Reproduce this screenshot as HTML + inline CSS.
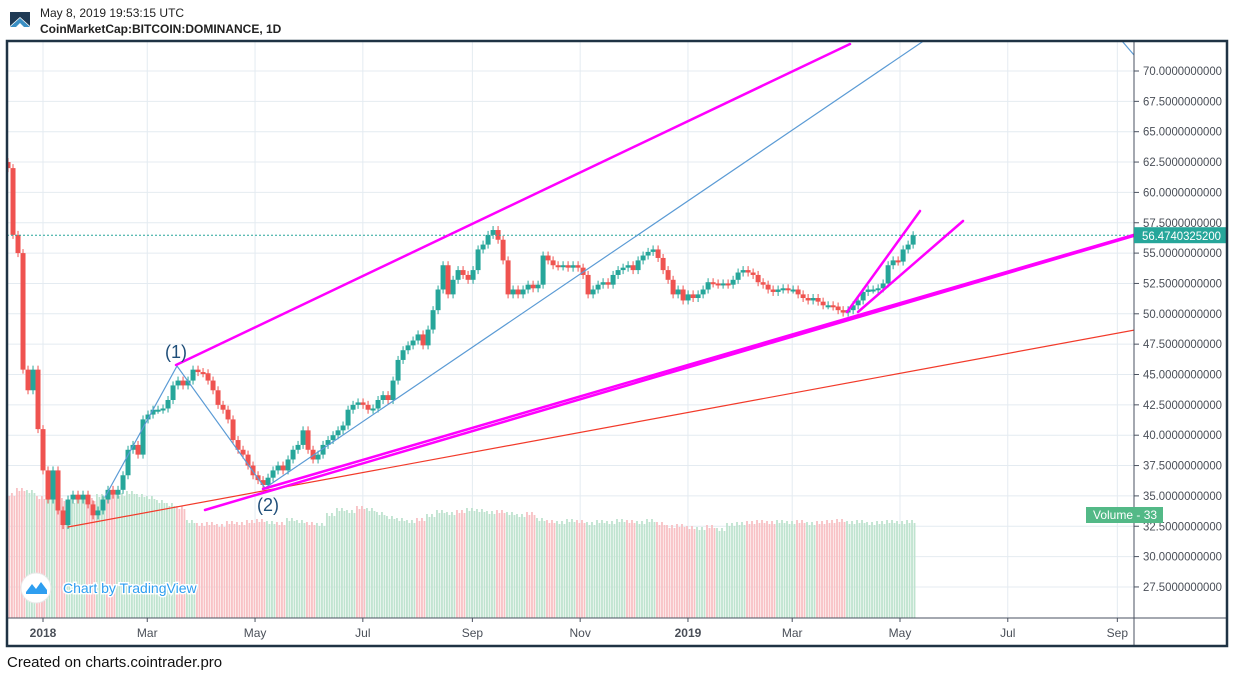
<!DOCTYPE html>
<html><head><meta charset="utf-8">
<style>
html,body{margin:0;padding:0;background:#fff;width:1234px;height:677px;overflow:hidden;font-family:"Liberation Sans",sans-serif}
#hdr1{position:absolute;left:40px;top:6px;font-size:12px;color:#222}
#hdr2{position:absolute;left:40px;top:22px;font-size:12px;font-weight:bold;color:#222}
#foot{position:absolute;left:7px;top:654px;font-size:15px;color:#111}
svg{position:absolute;left:0;top:0}
</style></head><body>
<div id="hdr1">May 8, 2019 19:53:15 UTC</div>
<div id="hdr2">CoinMarketCap:BITCOIN:DOMINANCE, 1D</div>
<div id="foot">Created on charts.cointrader.pro</div>
<svg id="chart" width="1234" height="677"></svg>
<script>
// ---- data ----
const closes=[62.0,56.5,55.0,45.4,43.7,45.4,40.5,37.1,34.7,37.1,33.8,32.6,34.7,35.1,34.7,35.1,34.3,33.4,33.8,34.7,35.5,35.1,35.5,36.7,38.8,39.2,38.4,41.3,41.7,42.1,42.1,42.2,42.9,44.1,44.5,44.1,44.5,45.4,45.2,45.1,44.5,43.7,42.5,42.1,41.3,39.6,38.8,38.4,37.5,36.7,36.3,35.9,36.5,37.1,37.5,37.1,38.0,38.8,39.2,40.4,38.8,38.0,38.4,39.2,39.6,40.0,40.4,40.8,42.1,42.5,42.7,42.5,42.1,42.2,42.9,43.3,42.9,44.5,46.2,47.0,47.4,47.8,48.3,47.4,48.7,50.3,52.0,54.0,51.6,52.8,53.6,53.2,52.8,53.6,55.3,55.7,56.5,56.9,56.1,54.4,51.6,52.0,51.6,52.0,52.4,52.1,52.4,54.8,54.4,54.0,53.9,54.0,53.8,54.0,53.8,53.2,51.6,52.0,52.4,52.6,52.4,53.2,53.6,53.8,54.0,53.6,54.4,54.8,55.1,55.3,54.6,53.6,52.8,51.6,52.0,51.1,51.6,51.3,51.6,52.0,52.6,52.5,52.4,52.5,52.4,52.8,53.4,53.6,53.4,53.2,52.6,52.4,52.0,51.8,52.0,52.1,52.0,52.0,51.6,51.3,51.1,51.3,51.0,50.7,50.7,50.6,50.3,50.1,50.3,50.7,51.1,51.8,52.0,52.0,52.1,52.5,54.0,54.4,54.3,55.3,55.7,56.47];
const volumes=[125,130,128,122,126,120,118,122,120,124,126,125,127,124,122,118,115,112,98,95,96,94,97,96,98,99,97,96,100,98,96,95,105,110,108,112,110,106,102,100,98,100,104,108,106,108,110,109,107,108,106,104,106,100,98,97,99,98,96,98,97,99,98,97,99,96,93,94,92,91,93,90,95,96,97,98,97,98,97,98,96,97,98,99,97,98,96,97,98,97,98];
const priceTicks=[70,67.5,65,62.5,60,57.5,55,52.5,50,47.5,45,42.5,40,37.5,35,32.5,30,27.5];
const monthLabels=["2018","Mar","May","Jul","Sep","Nov","2019","Mar","May","Jul","Sep"];
const monthDays=[0,59,120,181,243,304,365,424,485,546,608];
const lastPrice=56.4740325200;
// ---- scales ----
const X0=43,PPD=1.767,Y70=71,PPU=12.14;
const CANDLE_START=-19.8,CANDLE_STEP=2.83;
const xs=d=>X0+d*PPD;
const ys=v=>Y70+(70-v)*PPU;
const PL=7,PR=1134,PT=41,PB=618;
const NS="http://www.w3.org/2000/svg";
const svg=document.getElementById('chart');
function mk(tag,attrs,parent){const e=document.createElementNS(NS,tag);for(const k in attrs)e.setAttribute(k,attrs[k]);(parent||svg).appendChild(e);return e;}
const defs=mk('defs',{});const cp=mk('clipPath',{id:'pc'},defs);mk('rect',{x:PL,y:PT,width:PR-PL,height:PB-PT},cp);
// grid
const grid=mk('g',{});


priceTicks.forEach(v=>{mk('line',{x1:PL,x2:PR,y1:ys(v),y2:ys(v),stroke:'#e4ebf1','stroke-width':1},grid);});
monthDays.forEach(d=>{mk('line',{x1:xs(d),x2:xs(d),y1:PT,y2:PB,stroke:'#e4ebf1','stroke-width':1},grid);});
const plot=mk('g',{'clip-path':'url(#pc)'});
// volume (striped bars to mimic daily bars)
const vg=mk('g',{},plot);


const VSTEP=CANDLE_STEP*2;
volumes.forEach((v,i)=>{
  const d=CANDLE_START+i*VSTEP;const ci=Math.min(closes.length-1,i*2+1);
  const up=ci>0&&closes[ci]>=closes[ci-1];
  const x=xs(d)-2;const w=VSTEP*PPD;
  for(let k=0;k<w-0.5;k+=2.5){
    const r=mk('rect',{x:x+k,y:PB-v+(k%5?3:0),width:1.8,height:v,fill:up?'#bfe3cf':'#f8c1c4'},vg);
    
    
  }
});
// watermark
const wm=mk('g',{},plot);


mk('circle',{cx:36,cy:588,r:15,fill:'#fff',stroke:'#e8e8e8'},wm);
mk('path',{d:'M26 592 L32 584 L36 589 L41 582 L47 590 L47 594 L26 594Z',fill:'#2e9ef0'},wm);
const wt=mk('text',{x:63,y:593,'font-size':14,fill:'#2e9ef0',stroke:'#fff','stroke-width':3,'paint-order':'stroke','font-family':'Liberation Sans'},wm);wt.textContent='Chart by TradingView';
// candles
const cg=mk('g',{},plot);


closes.forEach((c,i)=>{
  const o=i>0?closes[i-1]:c+0.5;const up=c>=o;const col=up?'#26a69a':'#ef5350';
  const x=xs(CANDLE_START+i*CANDLE_STEP);
  const top=ys(Math.max(o,c)),bot=ys(Math.min(o,c));
  mk('line',{x1:x,x2:x,y1:top-4,y2:bot+4,stroke:col,'stroke-width':1},cg);
  const r=mk('rect',{x:x-2.5,y:top,width:5,height:Math.max(2,bot-top),fill:col},cg);
  
  
});
const lp=mk('line',{x1:PL,x2:PR,y1:ys(lastPrice),y2:ys(lastPrice),stroke:'#26a69a','stroke-width':1,'stroke-dasharray':'2,2'},plot);


// drawings
const ann=mk('g',{},plot);


function L(x1,y1,x2,y2,col,w,name){const l=mk('line',{x1,y1,x2,y2,stroke:col,'stroke-width':w,'stroke-linecap':'round'},ann);}
L(68,527,1140,329,'#f23a2a',1.2,'red-support-line');
L(105,497,177,366,'#5b9bd5',1.2,'wave-line-1');
L(177,366,265,488,'#5b9bd5',1.2,'wave-line-2');
L(265,488,925,40,'#5b9bd5',1.2,'blue-trend-line');
L(1122,41,1134,55,'#5b9bd5',1.2,'blue-line-top-right');
L(176,365,850,44,'#ff00ff',2.5,'upper-channel-line');
L(205,510,1140,234,'#ff00ff',2.5,'support-line-a');
L(263,489,1140,233,'#ff00ff',2.5,'support-line-b');
L(847,312,920,211,'#ff00ff',2.5,'short-channel-upper');
L(858,312,963,221,'#ff00ff',2.5,'short-channel-lower');
const t1=mk('text',{x:165,y:358,'font-size':18,fill:'#1f4e79'},ann);t1.textContent='(1)';

const t2=mk('text',{x:257,y:511,'font-size':18,fill:'#1f4e79'},ann);t2.textContent='(2)';

// axes
const ax=mk('g',{});


mk('line',{x1:PR,x2:PR,y1:PT,y2:646,stroke:'#4a5260','stroke-width':1},ax);
priceTicks.forEach(v=>{
  mk('line',{x1:PR,x2:PR+5,y1:ys(v),y2:ys(v),stroke:'#4a5260'},ax);
  const t=mk('text',{x:1143,y:ys(v)+4,'font-size':12,fill:'#4a4f58',textLength:79,lengthAdjust:'spacingAndGlyphs'},ax);t.textContent=v.toFixed(10);
  
});
const tax=mk('g',{});


mk('line',{x1:PL,x2:1228,y1:PB,y2:PB,stroke:'#4a5260','stroke-width':1},tax);
monthLabels.forEach((m,i)=>{
  const x=xs(monthDays[i]);
  mk('line',{x1:x,x2:x,y1:PB,y2:PB+4,stroke:'#4a5260'},tax);
  const bold=(m==='2018'||m==='2019');
  const t=mk('text',{x:x,y:637,'font-size':12,'text-anchor':'middle',fill:'#4a4f58','font-weight':bold?'bold':'normal'},tax);t.textContent=m;
  
});
const lpl=mk('g',{});


mk('rect',{x:PR,y:ys(lastPrice)-8,width:93,height:16,fill:'#26a69a'},lpl);
const lpt=mk('text',{x:1142,y:ys(lastPrice)+5,'font-size':12,fill:'#fff',textLength:79,lengthAdjust:'spacingAndGlyphs'},lpl);lpt.textContent=lastPrice.toFixed(10);
const vl=mk('g',{});


mk('rect',{x:1086,y:507,width:77,height:16,fill:'#53b987'},vl);
const vt=mk('text',{x:1093,y:519,'font-size':12,fill:'#fff'},vl);vt.textContent='Volume - 33';
const fr=mk('rect',{x:7,y:41,width:1220,height:605,fill:'none',stroke:'#1f3344','stroke-width':2.5});


const lg=mk('g',{});


mk('path',{d:'M10 12 L30 12 L30 26 L20 17 L10 26Z',fill:'#1f3a55'},lg);
mk('path',{d:'M10 27 L20 18 L30 27 L24 27 L20 23 L16 27Z',fill:'#3a8fc4'},lg);
</script>
</body></html>
